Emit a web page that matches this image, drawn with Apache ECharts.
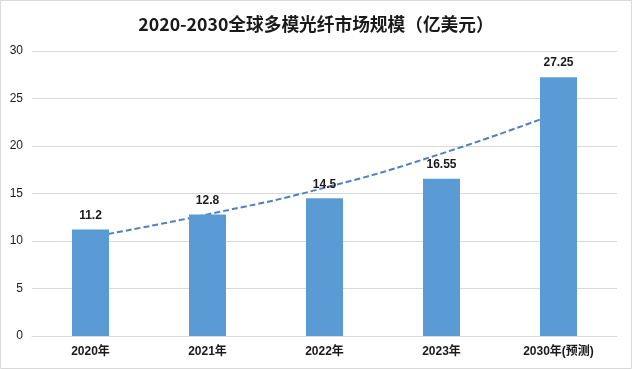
<!DOCTYPE html>
<html>
<head>
<meta charset="utf-8">
<script src="https://cdn.jsdelivr.net/npm/echarts@6/dist/echarts.min.js"></script>
<style>html,body{margin:0;padding:0;background:#fff;}#c{width:632px;height:369px;}</style>
</head>
<body>
<div id="c"></div>
<script>
const categories = ['2020年', '2021年', '2022年', '2023年', '2030年(预测)'];
const values = [11.2, 12.8, 14.5, 16.55, 27.25];
// dashed trend line, values at each category centre
const trend = [10.4, 12.8, 15.6, 19.2, 23.5];
const yTicks = [0, 5, 10, 15, 20, 25, 30];

const FONT = '"Liberation Sans", "Noto Sans CJK SC", sans-serif';
const chart = echarts.init(document.getElementById('c'));
chart.setOption({
  backgroundColor: '#ffffff',
  animation: false,
  title: {
    text: '2020-2030全球多模光纤市场规模（亿美元）',
    left: 'center',
    top: 10,
    textStyle: { fontFamily: '"Noto Sans CJK SC", sans-serif', fontSize: 17.7, fontWeight: 'bold', color: '#1a1a1a' }
  },
  graphic: [{
    type: 'rect',
    shape: { x: 0.5, y: 0.5, width: 631, height: 368 },
    style: { fill: 'none', stroke: '#d9d9d9', lineWidth: 1 },
    silent: true
  }],
  grid: { left: 32, right: 15, top: 51, bottom: 33 },
  xAxis: {
    type: 'category',
    data: categories,
    axisTick: { show: false },
    axisLine: { lineStyle: { color: '#d9d9d9' } },
    axisLabel: { fontFamily: FONT, fontSize: 12, fontWeight: 'bold', color: '#1a1a1a', margin: 10 }
  },
  yAxis: {
    type: 'value',
    min: yTicks[0],
    max: yTicks[yTicks.length - 1],
    interval: 5,
    axisLine: { show: false },
    axisTick: { show: false },
    splitLine: { lineStyle: { color: '#d9d9d9' } },
    axisLabel: { fontFamily: FONT, fontSize: 12, color: '#1a1a1a', margin: 9 }
  },
  series: [
    {
      type: 'line',
      data: trend,
      smooth: true,
      symbol: 'none',
      z: 1,
      lineStyle: { color: '#4f81bd', width: 2, type: [6, 3] }
    },
    {
      type: 'bar',
      data: values,
      barWidth: 37,
      z: 2,
      itemStyle: { color: '#5b9bd5' },
      label: {
        show: true,
        position: 'top',
        distance: 8,
        fontFamily: FONT,
        fontSize: 12,
        fontWeight: 'bold',
        color: '#1a1a1a'
      }
    }
  ]
});
</script>
</body>
</html>
